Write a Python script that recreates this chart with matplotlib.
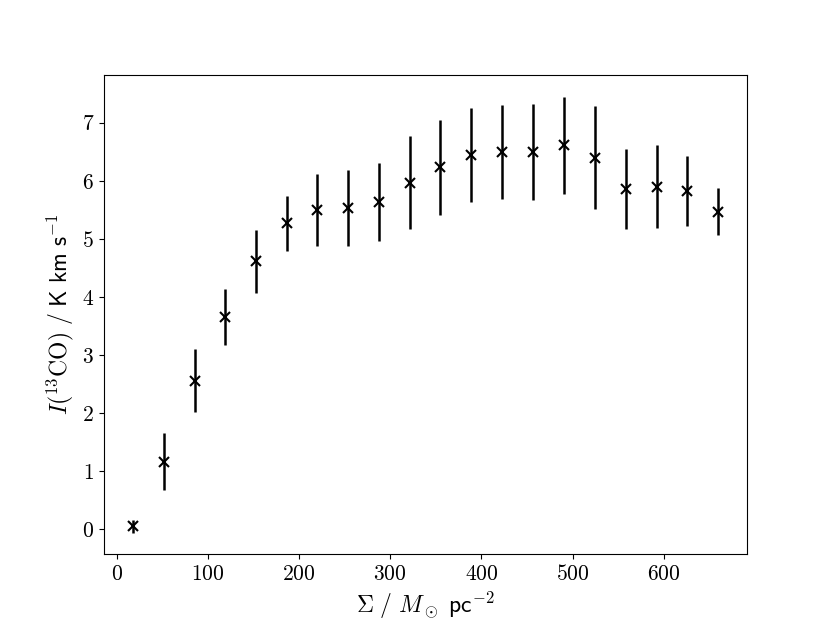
import numpy as np
import matplotlib
matplotlib.use("Agg")
import matplotlib.pyplot as plt

plt.rcParams['font.family'] = 'serif'
plt.rcParams['font.serif'] = ['cmr10']
plt.rcParams['mathtext.fontset'] = 'cm'
plt.rcParams['axes.formatter.use_mathtext'] = True

# surface density bins and 13CO intensity
sigma = [18, 52, 86, 119, 153, 187, 220, 254, 288, 322,
         355, 389, 423, 457, 490, 524, 558, 592, 625, 659]
i13co = [0.05, 1.16, 2.56, 3.66, 4.61, 5.27, 5.50, 5.53, 5.63, 5.97,
         6.23, 6.44, 6.50, 6.50, 6.61, 6.40, 5.86, 5.90, 5.83, 5.47]
i13co_err = [0.11, 0.49, 0.545, 0.48, 0.545, 0.475, 0.625, 0.655, 0.675, 0.80,
             0.815, 0.805, 0.81, 0.83, 0.84, 0.885, 0.695, 0.72, 0.605, 0.405]

FONT_SIZE = 17

fig = plt.figure(figsize=(8.3, 6.23), dpi=100)
ax = fig.add_subplot(111)
ax.errorbar(sigma, i13co, yerr=i13co_err, fmt='x', color='k',
            markersize=7, markeredgewidth=1.5, elinewidth=1.8, capsize=0)
ax.set_xlabel(r'$\Sigma\ /\ M_\odot\ \mathsf{pc}^{-2}$', fontsize=FONT_SIZE)
ax.set_ylabel(r'$I(^{13}\mathrm{CO})\ /\ \mathsf{K\ km\ s}^{-1}$', fontsize=FONT_SIZE)
ax.tick_params(labelsize=15.5)
fig.savefig("out.png", dpi=100)
